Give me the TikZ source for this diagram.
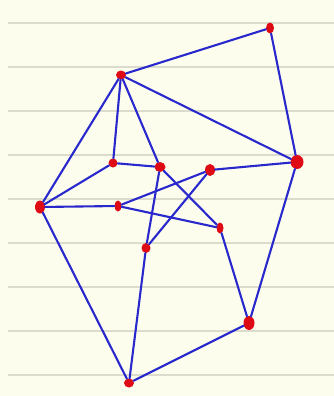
\documentclass[tikz,border=0pt]{standalone}
\usetikzlibrary{shapes.geometric}
\begin{document}
\begin{tikzpicture}[x=1pt,y=-1pt,
  edge/.style={draw=edgeblue,line width=2.1pt,line cap=round},
  ruled/.style={draw=ruleline,line width=1.3pt},
  dot/.style={fill=dotred,draw=none,ellipse,inner sep=0pt,minimum width=9pt,minimum height=9pt},
  bigdot/.style={dot,minimum width=12pt,minimum height=13pt}]
\definecolor{edgeblue}{HTML}{2828CC}
\definecolor{dotred}{HTML}{DE0A14}
\definecolor{ruleline}{HTML}{DCDCCC}
\definecolor{paper}{HTML}{FDFDEE}
\useasboundingbox (0,0) rectangle (334,396);
\fill[paper] (0,0) rectangle (334,396);
\foreach \y in {23,67,111,155,199,243,287,331,375}
  \draw[ruled] (8,\y) -- (334,\y);
\node[dot,minimum width=8pt,minimum height=11pt] (A) at (270,28) {};
\node[dot,minimum width=10pt,minimum height=9pt] (B) at (121,75) {};
\node[bigdot,minimum width=13pt,minimum height=14pt] (C) at (297,162) {};
\node[dot] (D) at (113,163) {};
\node[dot,minimum width=11pt,minimum height=10pt] (E) at (160,167) {};
\node[dot,minimum width=10pt,minimum height=12pt] (F) at (210,170) {};
\node[dot,minimum width=10pt,minimum height=13pt] (G) at (40,207) {};
\node[dot,minimum width=7pt,minimum height=11pt] (H) at (118,206) {};
\node[dot,minimum width=7pt,minimum height=11pt] (I) at (220,228) {};
\node[dot,minimum width=9pt,minimum height=10pt] (J) at (146,248) {};
\node[bigdot,minimum width=11pt,minimum height=14pt] (K) at (249,323) {};
\node[dot,minimum width=10pt,minimum height=9pt] (L) at (129,383) {};
\foreach \a/\b in {A/B,A/C,B/C,B/G,B/D,B/E,D/G,D/E,E/J,E/I,F/C,F/H,F/J,G/H,H/I,G/L,J/L,I/K,C/K,K/L}
  \draw[edge] (\a) -- (\b);
\end{tikzpicture}
\end{document}
